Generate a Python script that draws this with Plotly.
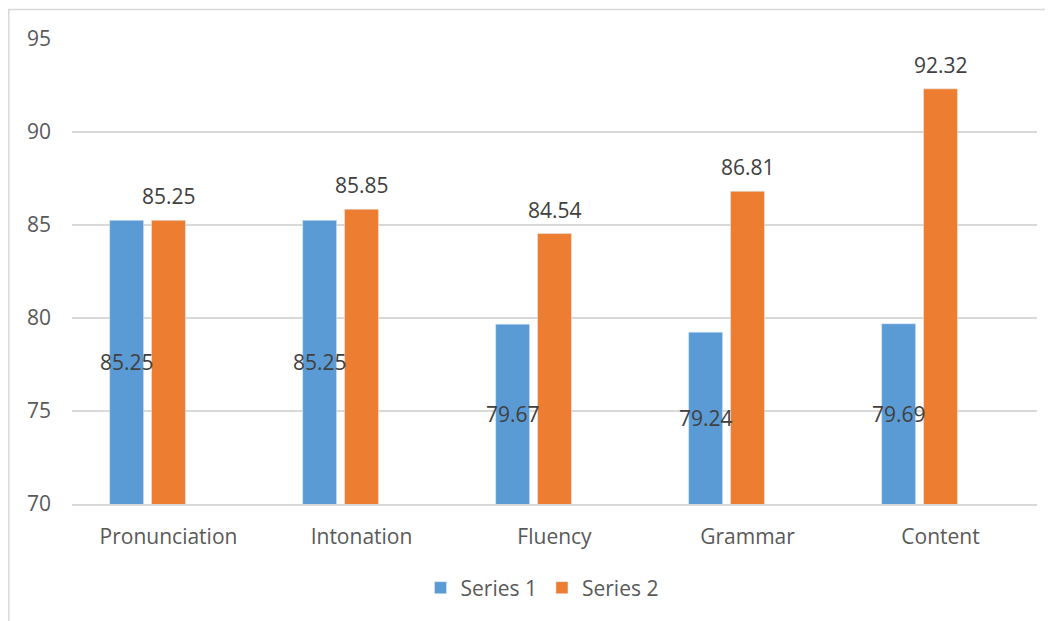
import plotly.graph_objects as go

categories = ["Pronunciation", "Intonation", "Fluency", "Grammar", "Content"]
series1 = [85.25, 85.25, 79.67, 79.24, 79.69]
series2 = [85.25, 85.85, 84.54, 86.81, 92.32]
series_names = ["Series 1", "Series 2"]
y_ticks = [70, 75, 80, 85, 90, 95]
Y_MIN, Y_MAX = 70, 95

BLUE = "#5B9BD5"
ORANGE = "#ED7D31"
LABEL = "#404040"
AXIS_TXT = "#595959"
GRID = "#D9D9D9"
FONT = "Open Sans"

W, H = 1045, 613
ML, MR, MT, MB = 64, 16, 31, 117
PW = W - ML - MR
PH = H - MT - MB

fig = go.Figure()
fig.add_trace(go.Bar(
    x=categories, y=series1, name=series_names[0],
    marker_color=BLUE, width=0.176, offset=-0.305,
))
fig.add_trace(go.Bar(
    x=categories, y=series2, name=series_names[1],
    marker_color=ORANGE, width=0.176, offset=-0.088,
))

# Series 1 labels: centred in the visible part of each bar
for i, v in enumerate(series1):
    fig.add_annotation(x=i - 0.217, y=(Y_MIN + v) / 2, xref="x", yref="y",
                       text=f"{v:.2f}", showarrow=False, yanchor="middle",
                       font=dict(family=FONT, size=21, color=LABEL))
# Series 2 labels: above each bar
for i, v in enumerate(series2):
    fig.add_annotation(x=i, y=v, xref="x", yref="y", text=f"{v:.2f}",
                       showarrow=False, yanchor="middle", yshift=24,
                       font=dict(family=FONT, size=21, color=LABEL))

# outer chart border (left and top visible)
fig.add_shape(type="rect", xref="paper", yref="paper",
              x0=(0.8 - ML) / PW, x1=1.2, y0=-0.4, y1=(PH + MT - 1.5) / PH,
              line=dict(color=GRID, width=1.5), fillcolor="rgba(0,0,0,0)", layer="below")

fig.update_layout(
    width=W, height=H,
    margin=dict(l=ML, r=MR, t=MT, b=MB),
    paper_bgcolor="white", plot_bgcolor="white",
    barmode="group",
    font=dict(family=FONT, size=21, color=AXIS_TXT),
    showlegend=True,
    legend=dict(orientation="h", x=(534 - ML) / PW, xanchor="center",
                y=(PH - (580 - MT)) / PH, yanchor="middle",
                font=dict(family=FONT, size=21, color=AXIS_TXT),
                itemwidth=30, traceorder="normal"),
    xaxis=dict(showgrid=False, showline=True, linecolor=GRID, linewidth=1.5,
               ticks="", ticklabelstandoff=13, range=[-0.5, 4.5],
               tickfont=dict(family=FONT, size=21, color=AXIS_TXT)),
    yaxis=dict(range=[Y_MIN, Y_MAX], tickvals=y_ticks, showgrid=True, gridcolor=GRID,
               gridwidth=1.5, zeroline=False, showline=False, ticks="",
               ticklabelstandoff=20,
               tickfont=dict(family=FONT, size=21, color=AXIS_TXT)),
)

fig.write_html("out.html")
